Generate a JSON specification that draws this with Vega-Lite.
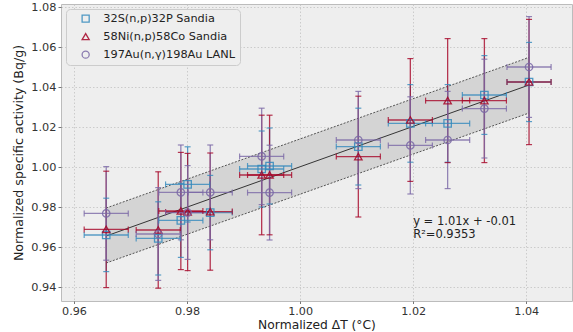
{
  "$schema": "https://vega.github.io/schema/vega-lite/v6.json",
  "autosize": "none",
  "width": 511,
  "height": 297,
  "padding": {"left": 61, "top": 4, "right": 1, "bottom": 31},
  "background": "white",
  "config": {
    "font": "DejaVu Sans",
    "view": {"fill": "#eeeeee", "stroke": "#bcbcbc", "strokeWidth": 1},
    "axis": {
      "grid": true, "gridColor": "#c2c2c2", "gridDash": [1.5, 2], "gridWidth": 0.8,
      "domain": false, "tickColor": "#555555", "tickSize": 3, "tickWidth": 0.8,
      "labelFontSize": 11.3, "labelColor": "#333333", "titleFontSize": 12.6,
      "titleFontWeight": "normal", "titleColor": "#222222", "labelPadding": 2
    },
    "legend": {
      "orient": "none", "legendX": 5, "legendY": 5, "fillColor": "#eeeeee",
      "strokeColor": "#cccccc", "cornerRadius": 4, "padding": 4,
      "labelFontSize": 11.3, "labelColor": "#222222", "rowPadding": 5,
      "symbolStrokeWidth": 1.3, "labelOffset": 12, "symbolSize": 50, "symbolOffset": 10
    }
  },
  "resolve": {"scale": {"color": "shared"}, "legend": {"color": "independent", "shape": "independent"}},
  "datasets": {
    "fit": [
      {"x": 0.9657, "fit": 0.9655, "lo": 0.9520, "hi": 0.9795},
      {"x": 1.0405, "fit": 1.0410, "lo": 1.0270, "hi": 1.0548}
    ],
    "pts": [
      {"series": "32S(n,p)32P Sandia", "x": 0.9657, "y": 0.9660, "ylo": 0.9477, "yhi": 0.9844, "xlo": 0.9618, "xhi": 0.9696},
      {"series": "32S(n,p)32P Sandia", "x": 0.9749, "y": 0.9643, "ylo": 0.9460, "yhi": 0.9826, "xlo": 0.9710, "xhi": 0.9788},
      {"series": "32S(n,p)32P Sandia", "x": 0.9789, "y": 0.9733, "ylo": 0.9548, "yhi": 0.9918, "xlo": 0.9750, "xhi": 0.9828},
      {"series": "32S(n,p)32P Sandia", "x": 0.9801, "y": 0.9913, "ylo": 0.9725, "yhi": 1.0101, "xlo": 0.9762, "xhi": 0.9840},
      {"series": "32S(n,p)32P Sandia", "x": 0.9841, "y": 0.9772, "ylo": 0.9586, "yhi": 0.9958, "xlo": 0.9802, "xhi": 0.9880},
      {"series": "32S(n,p)32P Sandia", "x": 0.9932, "y": 0.9990, "ylo": 0.9800, "yhi": 1.0180, "xlo": 0.9893, "xhi": 0.9971},
      {"series": "32S(n,p)32P Sandia", "x": 0.9946, "y": 1.0005, "ylo": 0.9815, "yhi": 1.0195, "xlo": 0.9907, "xhi": 0.9985},
      {"series": "32S(n,p)32P Sandia", "x": 1.0103, "y": 1.0102, "ylo": 0.9910, "yhi": 1.0294, "xlo": 1.0064, "xhi": 1.0142},
      {"series": "32S(n,p)32P Sandia", "x": 1.0195, "y": 1.0218, "ylo": 1.0024, "yhi": 1.0412, "xlo": 1.0156, "xhi": 1.0234},
      {"series": "32S(n,p)32P Sandia", "x": 1.0261, "y": 1.0218, "ylo": 1.0024, "yhi": 1.0412, "xlo": 1.0222, "xhi": 1.0300},
      {"series": "32S(n,p)32P Sandia", "x": 1.0326, "y": 1.0360, "ylo": 1.0163, "yhi": 1.0557, "xlo": 1.0287, "xhi": 1.0365},
      {"series": "32S(n,p)32P Sandia", "x": 1.0405, "y": 1.0425, "ylo": 1.0227, "yhi": 1.0623, "xlo": 1.0366, "xhi": 1.0444},
      {"series": "58Ni(n,p)58Co Sandia", "x": 0.9657, "y": 0.9688, "ylo": 0.9397, "yhi": 0.9979, "xlo": 0.9618, "xhi": 0.9696},
      {"series": "58Ni(n,p)58Co Sandia", "x": 0.9749, "y": 0.9685, "ylo": 0.9394, "yhi": 0.9976, "xlo": 0.9710, "xhi": 0.9788},
      {"series": "58Ni(n,p)58Co Sandia", "x": 0.9789, "y": 0.9780, "ylo": 0.9487, "yhi": 1.0073, "xlo": 0.9750, "xhi": 0.9828},
      {"series": "58Ni(n,p)58Co Sandia", "x": 0.9801, "y": 0.9775, "ylo": 0.9482, "yhi": 1.0068, "xlo": 0.9762, "xhi": 0.9840},
      {"series": "58Ni(n,p)58Co Sandia", "x": 0.9841, "y": 0.9777, "ylo": 0.9484, "yhi": 1.0070, "xlo": 0.9802, "xhi": 0.9880},
      {"series": "58Ni(n,p)58Co Sandia", "x": 0.9932, "y": 0.9960, "ylo": 0.9661, "yhi": 1.0259, "xlo": 0.9893, "xhi": 0.9971},
      {"series": "58Ni(n,p)58Co Sandia", "x": 0.9946, "y": 0.9960, "ylo": 0.9661, "yhi": 1.0259, "xlo": 0.9907, "xhi": 0.9985},
      {"series": "58Ni(n,p)58Co Sandia", "x": 1.0103, "y": 1.0052, "ylo": 0.9750, "yhi": 1.0354, "xlo": 1.0064, "xhi": 1.0142},
      {"series": "58Ni(n,p)58Co Sandia", "x": 1.0195, "y": 1.0235, "ylo": 0.9928, "yhi": 1.0542, "xlo": 1.0156, "xhi": 1.0234},
      {"series": "58Ni(n,p)58Co Sandia", "x": 1.0261, "y": 1.0332, "ylo": 1.0022, "yhi": 1.0642, "xlo": 1.0222, "xhi": 1.0300},
      {"series": "58Ni(n,p)58Co Sandia", "x": 1.0326, "y": 1.0332, "ylo": 1.0022, "yhi": 1.0642, "xlo": 1.0287, "xhi": 1.0365},
      {"series": "58Ni(n,p)58Co Sandia", "x": 1.0405, "y": 1.0425, "ylo": 1.0112, "yhi": 1.0738, "xlo": 1.0366, "xhi": 1.0444},
      {"series": "197Au(n,γ)198Au LANL", "x": 0.9657, "y": 0.9768, "ylo": 0.9534, "yhi": 1.0002, "xlo": 0.9618, "xhi": 0.9696},
      {"series": "197Au(n,γ)198Au LANL", "x": 0.9749, "y": 0.9665, "ylo": 0.9433, "yhi": 0.9897, "xlo": 0.9710, "xhi": 0.9788},
      {"series": "197Au(n,γ)198Au LANL", "x": 0.9789, "y": 0.9873, "ylo": 0.9636, "yhi": 1.0110, "xlo": 0.9750, "xhi": 0.9828},
      {"series": "197Au(n,γ)198Au LANL", "x": 0.9801, "y": 0.9772, "ylo": 0.9538, "yhi": 1.0007, "xlo": 0.9762, "xhi": 0.9840},
      {"series": "197Au(n,γ)198Au LANL", "x": 0.9841, "y": 0.9873, "ylo": 0.9636, "yhi": 1.0110, "xlo": 0.9802, "xhi": 0.9880},
      {"series": "197Au(n,γ)198Au LANL", "x": 0.9932, "y": 1.0053, "ylo": 0.9812, "yhi": 1.0294, "xlo": 0.9893, "xhi": 0.9971},
      {"series": "197Au(n,γ)198Au LANL", "x": 0.9946, "y": 0.9872, "ylo": 0.9635, "yhi": 1.0109, "xlo": 0.9907, "xhi": 0.9985},
      {"series": "197Au(n,γ)198Au LANL", "x": 1.0103, "y": 1.0135, "ylo": 0.9892, "yhi": 1.0378, "xlo": 1.0064, "xhi": 1.0142},
      {"series": "197Au(n,γ)198Au LANL", "x": 1.0195, "y": 1.0108, "ylo": 0.9865, "yhi": 1.0351, "xlo": 1.0156, "xhi": 1.0234},
      {"series": "197Au(n,γ)198Au LANL", "x": 1.0261, "y": 1.0135, "ylo": 0.9892, "yhi": 1.0378, "xlo": 1.0222, "xhi": 1.0300},
      {"series": "197Au(n,γ)198Au LANL", "x": 1.0326, "y": 1.0292, "ylo": 1.0045, "yhi": 1.0539, "xlo": 1.0287, "xhi": 1.0365},
      {"series": "197Au(n,γ)198Au LANL", "x": 1.0405, "y": 1.0500, "ylo": 1.0248, "yhi": 1.0752, "xlo": 1.0366, "xhi": 1.0444}
    ],
    "notes": [
      {"x": 1.0200, "y": 0.9725, "label": "y = 1.01x + -0.01"},
      {"x": 1.0200, "y": 0.9661, "label": "R²=0.9353"}
    ]
  },
  "layer": [
    {
      "data": {"name": "fit"},
      "mark": {"type": "area", "color": "#d4d4d4", "opacity": 1},
      "encoding": {
        "x": {"field": "x", "type": "quantitative", "scale": {"domain": [0.9577, 1.0481], "nice": false, "zero": false},
              "axis": {"values": [0.96, 0.98, 1.0, 1.02, 1.04], "format": ".2f", "title": "Normalized ΔT (°C)", "titlePadding": 2, "tickSize": 2.5, "labelPadding": 1.5, "labelFontSize": 11.2, "titleFontSize": 12.3}},
        "y": {"field": "lo", "type": "quantitative", "scale": {"domain": [0.933, 1.0815], "nice": false, "zero": false},
              "axis": {"values": [0.94, 0.96, 0.98, 1.0, 1.02, 1.04, 1.06, 1.08], "format": ".2f", "title": "Normalized specific activity (Bq/g)", "titlePadding": 5}},
        "y2": {"field": "hi"}
      }
    },
    {
      "data": {"name": "fit"},
      "mark": {"type": "line", "color": "#444444", "strokeWidth": 0.9, "strokeDash": [2, 1.5]},
      "encoding": {"x": {"field": "x", "type": "quantitative"}, "y": {"field": "lo", "type": "quantitative"}}
    },
    {
      "data": {"name": "fit"},
      "mark": {"type": "line", "color": "#444444", "strokeWidth": 0.9, "strokeDash": [2, 1.5]},
      "encoding": {"x": {"field": "x", "type": "quantitative"}, "y": {"field": "hi", "type": "quantitative"}}
    },
    {
      "data": {"name": "fit"},
      "mark": {"type": "line", "color": "#222222", "strokeWidth": 0.9},
      "encoding": {"x": {"field": "x", "type": "quantitative"}, "y": {"field": "fit", "type": "quantitative"}}
    },
    {
      "data": {"name": "pts"},
      "mark": {"type": "rule", "strokeWidth": 1.3, "opacity": 0.8},
      "encoding": {
        "x": {"field": "x", "type": "quantitative"},
        "y": {"field": "ylo", "type": "quantitative"}, "y2": {"field": "yhi"},
        "color": {"field": "series", "type": "nominal", "legend": null}
      }
    },
    {
      "data": {"name": "pts"},
      "mark": {"type": "rule", "strokeWidth": 1.3, "opacity": 0.8},
      "encoding": {
        "y": {"field": "y", "type": "quantitative"},
        "x": {"field": "xlo", "type": "quantitative"}, "x2": {"field": "xhi"},
        "color": {"field": "series", "type": "nominal", "legend": null}
      }
    },
    {
      "data": {"name": "pts"},
      "mark": {"type": "tick", "orient": "horizontal", "size": 6, "thickness": 1.2, "opacity": 0.8},
      "encoding": {
        "x": {"field": "x", "type": "quantitative"}, "y": {"field": "ylo", "type": "quantitative"},
        "color": {"field": "series", "type": "nominal", "legend": null}
      }
    },
    {
      "data": {"name": "pts"},
      "mark": {"type": "tick", "orient": "horizontal", "size": 6, "thickness": 1.2, "opacity": 0.8},
      "encoding": {
        "x": {"field": "x", "type": "quantitative"}, "y": {"field": "yhi", "type": "quantitative"},
        "color": {"field": "series", "type": "nominal", "legend": null}
      }
    },
    {
      "data": {"name": "pts"},
      "mark": {"type": "tick", "orient": "vertical", "size": 6, "thickness": 1.2, "opacity": 0.8},
      "encoding": {
        "x": {"field": "xlo", "type": "quantitative"}, "y": {"field": "y", "type": "quantitative"},
        "color": {"field": "series", "type": "nominal", "legend": null}
      }
    },
    {
      "data": {"name": "pts"},
      "mark": {"type": "tick", "orient": "vertical", "size": 6, "thickness": 1.2, "opacity": 0.8},
      "encoding": {
        "x": {"field": "xhi", "type": "quantitative"}, "y": {"field": "y", "type": "quantitative"},
        "color": {"field": "series", "type": "nominal", "legend": null}
      }
    },
    {
      "data": {"name": "pts"},
      "mark": {"type": "point", "filled": false, "strokeWidth": 1.3, "size": 55, "opacity": 0.85},
      "encoding": {
        "x": {"field": "x", "type": "quantitative"}, "y": {"field": "y", "type": "quantitative"},
        "color": {"field": "series", "type": "nominal",
                  "scale": {"domain": ["32S(n,p)32P Sandia", "58Ni(n,p)58Co Sandia", "197Au(n,γ)198Au LANL"], "range": ["#348ABD", "#A60628", "#7A68A6"]},
                  "legend": {"title": null}},
        "shape": {"field": "series", "type": "nominal",
                  "scale": {"domain": ["32S(n,p)32P Sandia", "58Ni(n,p)58Co Sandia", "197Au(n,γ)198Au LANL"], "range": ["square", "triangle-up", "circle"]},
                  "legend": {"title": null}}
      }
    },
    {
      "data": {"name": "notes"},
      "mark": {"type": "text", "align": "left", "baseline": "middle", "fontSize": 11.5, "color": "#222222"},
      "encoding": {
        "x": {"field": "x", "type": "quantitative"}, "y": {"field": "y", "type": "quantitative"},
        "text": {"field": "label", "type": "nominal"}
      }
    }
  ]
}
